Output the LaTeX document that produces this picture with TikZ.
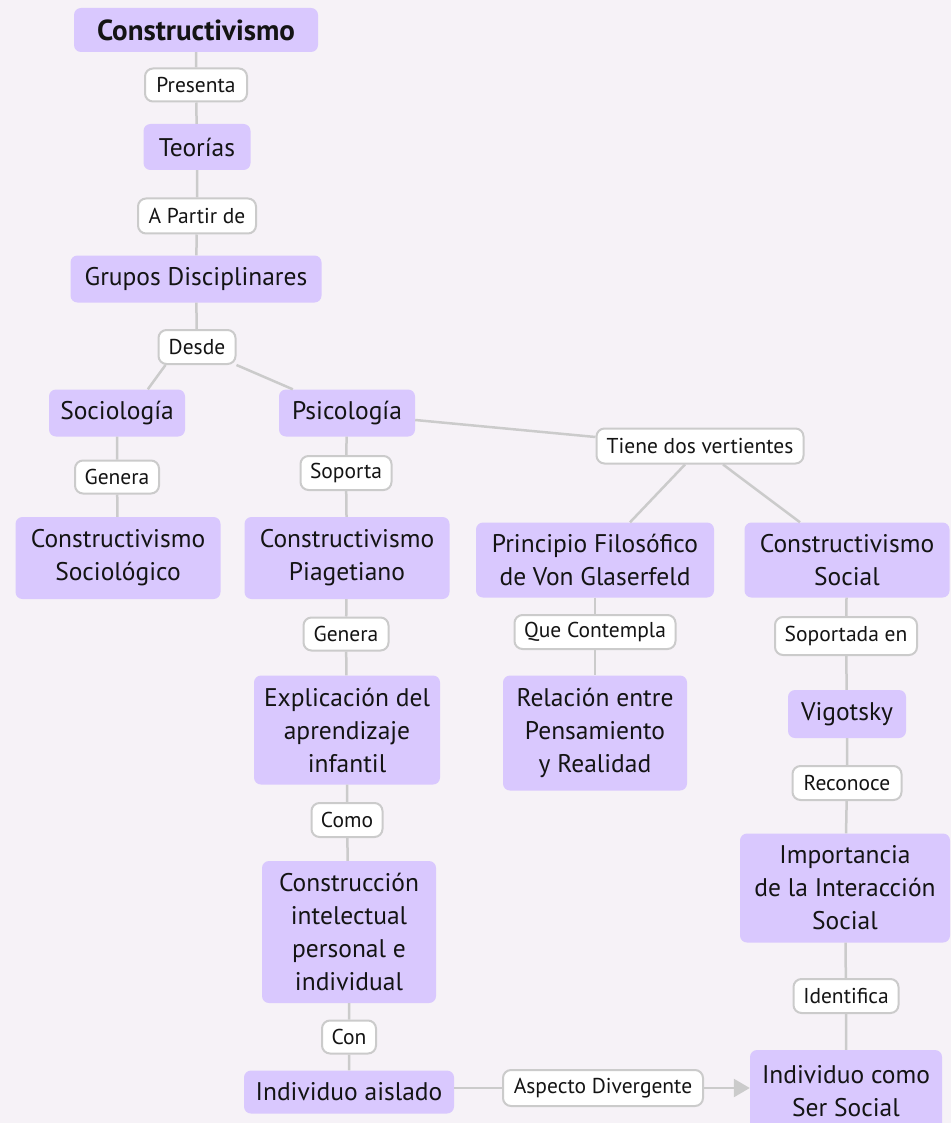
\documentclass[tikz,border=0pt]{standalone}
\usepackage{fontspec}
\setmainfont{PT Sans}
\usetikzlibrary{arrows.meta}
\definecolor{bgcol}{HTML}{F6F2F7}
\definecolor{conceptfill}{HTML}{D9C8FE}
\definecolor{linkcol}{HTML}{CBCBCB}
\definecolor{txtcol}{HTML}{141414}
\tikzset{
  concept/.style={fill=conceptfill, rounded corners=7pt, inner sep=0pt, align=center,
    text=txtcol, font=\fontsize{25.5}{33}\selectfont},
  linklabel/.style={fill=white, draw=linkcol, line width=2pt, rounded corners=8pt,
    inner sep=0pt, align=center, text=txtcol, font=\fontsize{21.5}{24}\selectfont},
  conn/.style={draw=linkcol, line width=2.5pt},
  sz/.style 2 args={minimum width=#1pt, minimum height=#2pt}
}
\begin{document}
\begin{tikzpicture}[x=1pt, y=-1pt]
\fill[bgcol] (0,0) rectangle (951,1123);
\useasboundingbox (0,0) rectangle (951,1123);

% concepts
\node[concept, sz={244}{44}, font=\fontsize{29}{33}\selectfont\bfseries] (cons) at (196,30) {Constructivismo};
\node[concept, sz={107}{46}] (teor) at (197,147) {Teorías};
\node[concept, sz={251}{47}] (grup) at (196,279) {Grupos Disciplinares};
\node[concept, sz={136}{47}] (soci) at (117,413) {Sociología};
\node[concept, sz={136}{47}] (psic) at (347,413) {Psicología};
\node[concept, sz={205}{82}] (csoc) at (118,558) {Constructivismo\\Sociológico};
\node[concept, sz={205}{82}] (cpia) at (347,558) {Constructivismo\\Piagetiano};
\node[concept, sz={238}{75}] (prin) at (595,560) {Principio Filosófico\\de Von Glaserfeld};
\node[concept, sz={205}{75}] (csol) at (847,560) {Constructivismo\\Social};
\node[concept, sz={186}{109}] (expl) at (347,730) {Explicación del\\aprendizaje\\infantil};
\node[concept, sz={184}{115}] (rela) at (595,733) {Relación entre\\Pensamiento\\y Realidad};
\node[concept, sz={118}{48}] (vigo) at (847,714) {Vigotsky};
\node[concept, sz={210}{109}] (impo) at (845,888) {Importancia\\de la Interacción\\Social};
\node[concept, sz={174}{142}] (cons2) at (349,932) {Construcción\\intelectual\\personal e\\individual};
\node[concept, sz={210}{43}] (inda) at (349,1092) {Individuo aislado};
\node[concept, sz={192}{82}] (inds) at (846,1091) {Individuo como\\Ser Social};

% link labels
\node[linklabel, sz={102}{33}] (l1) at (196,85) {Presenta};
\node[linklabel, sz={118}{35}] (l2) at (197,216) {A Partir de};
\node[linklabel, sz={77}{34}] (l3) at (197,347) {Desde};
\node[linklabel, sz={84}{33}] (l4) at (117,477) {Genera};
\node[linklabel, sz={91}{34}] (l5) at (346,473) {Soporta};
\node[linklabel, sz={207}{35}] (l6) at (700,446) {Tiene dos vertientes};
\node[linklabel, sz={85}{33}] (l7) at (346,634) {Genera};
\node[linklabel, sz={161}{34}] (l8) at (595,632) {Que Contempla};
\node[linklabel, sz={142}{38}] (l9) at (846,636) {Soportada en};
\node[linklabel, sz={109}{34}] (l10) at (847,783) {Reconoce};
\node[linklabel, sz={71}{34}] (l11) at (347,820) {Como};
\node[linklabel, sz={105}{34}] (l12) at (846,996) {Identifica};
\node[linklabel, sz={54}{33}] (l13) at (349,1037) {Con};
\node[linklabel, sz={200}{36}] (l14) at (603,1088) {Aspecto Divergente};

% connectors
\draw[conn] (cons) -- (l1) -- (teor) -- (l2) -- (grup) -- (l3);
\draw[conn] ([xshift=8pt]l3.south west) -- ([xshift=99pt]soci.north west);
\draw[conn] (l3.south east) -- ([xshift=14pt]psic.north west);
\draw[conn] (soci) -- (l4) -- (csoc);
\draw[conn] (psic) -- (l5) -- (cpia);
\draw[conn] ([yshift=-7pt]psic.east) -- ([yshift=9pt]l6.west);
\draw[conn] ([xshift=-15pt]l6.south) -- ([xshift=35pt]prin.north);
\draw[conn] ([xshift=23pt]l6.south) -- ([xshift=-47pt]csol.north);
\draw[conn] (cpia) -- (l7) -- (expl) -- (l11) -- (cons2) -- (l13) -- (inda);
\draw[conn] (prin) -- (l8) -- (rela);
\draw[conn] (csol) -- (l9) -- (vigo) -- (l10) -- (impo) -- (l12) -- (inds);
\draw[conn] (inda.east |- l14.west) -- (l14.west);
\draw[conn, -{Triangle[length=16pt, width=18pt]}] (l14.east) -- (l14.east -| inds.west);
\end{tikzpicture}
\end{document}
